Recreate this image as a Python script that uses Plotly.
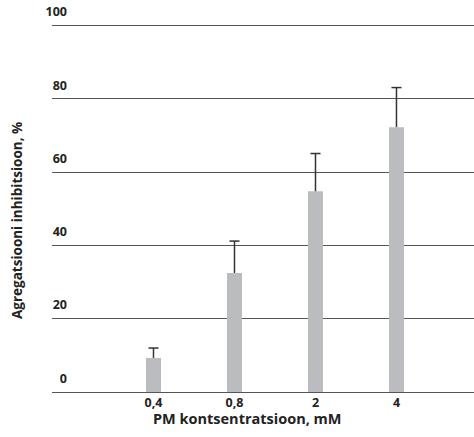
import plotly.graph_objects as go

categories = ["0,4", "0,8", "2", "4"]
positions = [1, 2, 3, 4]
values = [9.3, 32.5, 54.8, 72.3]
errors_up = [2.7, 8.7, 10.3, 10.8]
y_ticks = [0, 20, 40, 60, 80, 100]

FONT = "Open Sans"
CAP_HALF = 0.062  # half cap width in x-axis units

fig = go.Figure()
fig.add_trace(go.Bar(
    x=positions, y=values, width=0.185,
    marker=dict(color="#bbbcc0", line=dict(width=0)),
    hoverinfo="skip",
))

# upper-only error whiskers built from the data
ex, ey = [], []
for p, v, e in zip(positions, values, errors_up):
    ex += [p, p, None, p - CAP_HALF, p + CAP_HALF, None]
    ey += [v, v + e, None, v + e, v + e, None]
fig.add_trace(go.Scatter(x=ex, y=ey, mode="lines",
                         line=dict(color="#333333", width=1.5),
                         hoverinfo="skip", cliponaxis=False))

fig.update_layout(
    width=474, height=437,
    margin=dict(l=52, r=0, t=22, b=45),
    paper_bgcolor="white", plot_bgcolor="white",
    showlegend=False,
    font=dict(family=FONT, color="#222222"),
    xaxis=dict(range=[-0.253, 4.957], tickvals=positions, ticktext=categories,
               showgrid=False, zeroline=False, showline=False, ticks="",
               tickfont=dict(size=12.5, family=FONT, weight="bold"), ticklabelstandoff=1),
    yaxis=dict(range=[0, 101], tickvals=y_ticks, showgrid=True, gridcolor="#555555",
               gridwidth=1.2, zeroline=True, zerolinecolor="#555555", zerolinewidth=1.2,
               showline=False, ticks="", ticklabelposition="outside top",
               ticklabelstandoff=-16, ticklabelshift=-5,
               tickfont=dict(size=12.5, family=FONT, weight="bold")),
    annotations=[
        dict(text="<b>PM kontsentratsioon, mM</b>", xref="paper", yref="paper",
             x=(247-52)/422, y=-(419-392)/370, xanchor="center", yanchor="middle",
             showarrow=False, font=dict(size=14.5, family=FONT)),
        dict(text="<b>Agregatsiooni inhibitsioon, %</b>", xref="paper", yref="paper",
             x=-(52-17)/422, y=(392-221)/370, xanchor="center", yanchor="middle",
             textangle=-90, showarrow=False, font=dict(size=13.5, family=FONT)),
    ],
)

fig.write_html("out.html")
